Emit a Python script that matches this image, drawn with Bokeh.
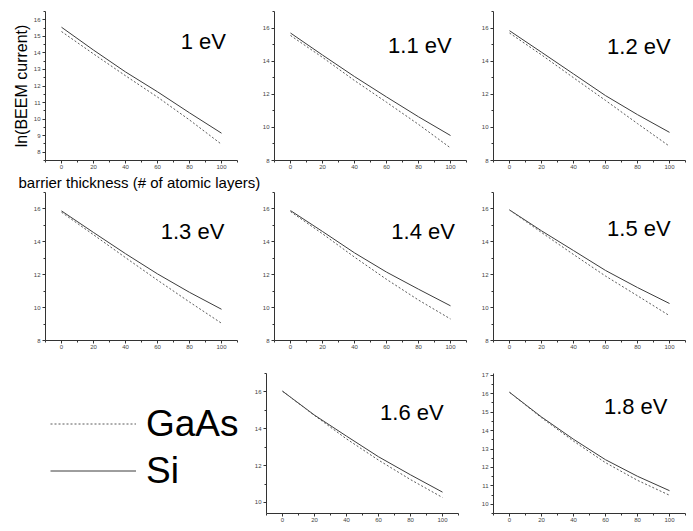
from bokeh.plotting import figure
from bokeh.layouts import column, row
from bokeh.models import Range1d, FixedTicker, Label, Legend, LegendItem
from bokeh.embed import file_html
from bokeh.resources import INLINE

FONT = "Liberation Sans"
NAN = float("nan")

# barrier thickness (# of atomic layers)
thickness = [0, 20, 40, 60, 80, 100]
x_major = [0, 20, 40, 60, 80, 100]
x_minor = [-10, 10, 30, 50, 70, 90, 110]

energy_labels = ["1 eV", "1.1 eV", "1.2 eV", "1.3 eV", "1.4 eV", "1.5 eV", "1.6 eV", "1.8 eV"]

# ln(BEEM current) per barrier energy
si_10 = [15.55, 14.17, 12.85, 11.65, 10.38, 9.15]
gaas_10 = [15.29, 13.94, 12.62, 11.33, 9.95, 8.48]
si_11 = [15.70, 14.37, 13.07, 11.84, 10.64, 9.51]
gaas_11 = [15.55, 14.23, 12.83, 11.52, 10.18, 8.76]
si_12 = [15.84, 14.54, 13.23, 11.92, 10.77, 9.70]
gaas_12 = [15.70, 14.38, 13.00, 11.63, 10.23, 8.86]
si_13 = [15.88, 14.57, 13.28, 12.05, 10.93, 9.90]
gaas_13 = [15.80, 14.43, 13.04, 11.67, 10.34, 9.05]
si_14 = [15.90, 14.63, 13.33, 12.16, 11.12, 10.11]
gaas_14 = [15.84, 14.49, 13.07, 11.72, 10.46, 9.31]
si_15 = [15.94, 14.67, 13.47, 12.26, 11.22, 10.25]
gaas_15 = [15.94, 14.57, 13.23, 11.92, 10.72, 9.51]
si_16 = [16.04, 14.74, 13.60, 12.48, 11.50, 10.56]
gaas_16 = [16.04, 14.72, 13.45, 12.30, 11.24, 10.27]
si_18 = [16.08, 14.74, 13.53, 12.42, 11.52, 10.74]
gaas_18 = [16.08, 14.70, 13.43, 12.26, 11.30, 10.49]

# y-axis ticks per panel
y_major_a = [8, 9, 10, 11, 12, 13, 14, 15, 16]
y_minor_a = [7.5, 8.5, 9.5, 10.5, 11.5, 12.5, 13.5, 14.5, 15.5, 16.5]
y_major_b = [8, 10, 12, 14, 16]
y_minor_b = [9, 11, 13, 15, 17]
y_major_c = [10, 12, 14, 16]
y_minor_c = [11, 13, 15, 17]
y_major_d = [10, 11, 12, 13, 14, 15, 16, 17]
y_minor_d = [9.5, 10.5, 11.5, 12.5, 13.5, 14.5, 15.5, 16.5]

SI_COLOR = "#3c3c3c"
GAAS_COLOR = "#5a5a5a"


def panel(width, height, left, right, top, bottom, yr, ymaj, ymin, si, gaas,
          label, lx, ly, ylabel=None):
    p = figure(width=width, height=height, output_backend="svg", toolbar_location=None,
               x_range=Range1d(-10, 110), y_range=Range1d(*yr),
               min_border_left=left, min_border_right=right,
               min_border_top=top, min_border_bottom=bottom)
    p.outline_line_color = None
    p.grid.visible = False
    p.xaxis.ticker = FixedTicker(ticks=x_major, minor_ticks=x_minor)
    p.yaxis.ticker = FixedTicker(ticks=ymaj, minor_ticks=ymin)
    for ax in (p.xaxis[0], p.yaxis[0]):
        ax.axis_line_color = "#333333"
        ax.major_tick_line_color = "#333333"
        ax.minor_tick_line_color = "#333333"
        ax.major_tick_out = 3
        ax.major_tick_in = 0
        ax.minor_tick_out = 2
        ax.minor_tick_in = 0
        ax.major_label_text_font = FONT
        ax.major_label_text_font_size = "6px"
        ax.major_label_text_color = "#444444"
        ax.major_label_standoff = 2
    p.xaxis.major_label_standoff = 1
    if ylabel:
        p.yaxis.axis_label = ylabel
        p.yaxis.axis_label_text_font = FONT
        p.yaxis.axis_label_text_font_size = "16px"
        p.yaxis.axis_label_text_font_style = "normal"
        p.yaxis.axis_label_text_color = "black"
        p.yaxis.axis_label_standoff = 1
    p.line(thickness, si, line_color=SI_COLOR, line_width=1)
    p.line(thickness, gaas, line_color=GAAS_COLOR, line_width=1, line_dash="2 2")
    p.add_layout(Label(x=lx, y=ly, text=label, text_font=FONT, text_font_size="22px",
                       text_color="black", text_baseline="alphabetic"))
    return p


p1 = panel(250, 173, 45, 13, 11, 13, (7.5, 16.5), y_major_a, y_minor_a, si_10, gaas_10,
           energy_labels[0], 74.5, 14.71, ylabel="ln(BEEM current)")
p2 = panel(225, 173, 24, 9, 11, 13, (8, 17), y_major_b, y_minor_b, si_11, gaas_11,
           energy_labels[1], 61, 14.95)
p3 = panel(218, 173, 18, 8, 11, 13, (8, 17), y_major_b, y_minor_b, si_12, gaas_12,
           energy_labels[2], 61, 14.88)

strip = figure(width=693, height=19, output_backend="svg", toolbar_location=None,
               x_range=Range1d(0, 693), y_range=Range1d(0, 19),
               x_axis_location=None, y_axis_location=None, min_border=0)
strip.outline_line_color = None
strip.grid.visible = False
strip.add_layout(Label(x=18, y=9.7, text="barrier thickness (# of atomic layers)",
                       text_font=FONT, text_font_size="15px", text_color="black",
                       text_baseline="alphabetic"))

p4 = panel(250, 168, 45, 13, 0, 20, (8, 17), y_major_b, y_minor_b, si_13, gaas_13,
           energy_labels[3], 62, 14.63)
p5 = panel(225, 168, 24, 9, 0, 20, (8, 17), y_major_b, y_minor_b, si_14, gaas_14,
           energy_labels[4], 63, 14.64)
p6 = panel(218, 168, 18, 8, 0, 20, (8, 17), y_major_b, y_minor_b, si_15, gaas_15,
           energy_labels[5], 61, 14.82)

leg = figure(width=245, height=171, output_backend="svg", toolbar_location=None,
             x_range=Range1d(0, 1), y_range=Range1d(0, 1),
             x_axis_location=None, y_axis_location=None, min_border=0)
leg.outline_line_color = None
leg.grid.visible = False
# legend proxies (no visible data)
r_gaas = leg.line(x=[NAN], y=[NAN], line_color=GAAS_COLOR, line_width=1, line_dash="2 2")
r_si = leg.line(x=[NAN], y=[NAN], line_color=SI_COLOR, line_width=1)
legend = Legend(items=[LegendItem(label="GaAs", renderers=[r_gaas]),
                       LegendItem(label="Si", renderers=[r_si])],
                location=(50, 19), label_text_font=FONT, label_text_font_size="37px",
                label_text_color="black", glyph_width=86, glyph_height=47,
                label_height=47, label_standoff=10, spacing=0, padding=0, margin=0,
                border_line_color=None, background_fill_alpha=0)
leg.add_layout(legend)

p7 = panel(230, 171, 21, 17, 13, 18, (9.4, 17), y_major_c, y_minor_c, si_16, gaas_16,
           energy_labels[6], 61, 14.91)
p8 = panel(218, 171, 18, 8, 13, 12, (9.5, 17.1), y_major_d, y_minor_d, si_18, gaas_18,
           energy_labels[7], 59, 15.32)

layout = column(row(p1, p2, p3), strip, row(p4, p5, p6), row(leg, p7, p8))

open("out.html", "w").write(file_html(layout, INLINE))
